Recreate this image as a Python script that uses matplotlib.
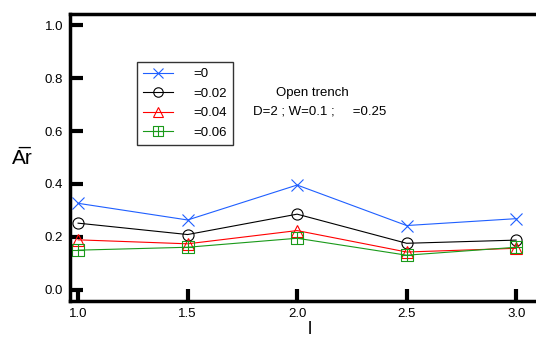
import numpy as np
import matplotlib.pyplot as plt
from matplotlib.path import Path

plt.rcParams['font.family'] = ['Liberation Sans', 'DejaVu Sans']

# datos
l_vals = [1.0, 1.5, 2.0, 2.5, 3.0]
etiquetas = ['=0', '=0.02', '=0.04', '=0.06']
ar_0 = [0.327, 0.264, 0.396, 0.243, 0.269]
ar_002 = [0.252, 0.209, 0.286, 0.176, 0.188]
ar_004 = [0.189, 0.174, 0.224, 0.143, 0.157]
ar_006 = [0.150, 0.161, 0.195, 0.131, 0.161]

# marcador cuadrado con cruz
verts = [(-1, -1), (1, -1), (1, 1), (-1, 1), (-1, -1),
         (0, -1), (0, 1), (-1, 0), (1, 0)]
codes = [Path.MOVETO, Path.LINETO, Path.LINETO, Path.LINETO, Path.LINETO,
         Path.MOVETO, Path.LINETO, Path.MOVETO, Path.LINETO]
cuadrado_cruz = Path(verts, codes)

fig = plt.figure(figsize=(5.36, 3.43), dpi=100)
ax = fig.add_axes([70 / 536, 1 - 301 / 343, 479 / 536, 287 / 343])

series = [
    (ar_0, '#1f5fff', 'x', 9),
    (ar_002, 'black', 'o', 8),
    (ar_004, 'red', '^', 8),
    (ar_006, '#1a9a1a', cuadrado_cruz, 9),
]
for (vals, color, marker, ms), lab in zip(series, etiquetas):
    ax.plot(l_vals, vals, color=color, lw=0.8, marker=marker, ms=ms,
            mfc='none', mec=color, mew=0.8, label=lab)

ax.set_xlim(0.963, 3.15)
ax.set_ylim(-0.042, 1.042)
ax.set_xticks(l_vals)
ax.set_yticks([0.0, 0.2, 0.4, 0.6, 0.8, 1.0])
ax.set_xticklabels(['1.0', '1.5', '2.0', '2.5', '3.0'])
ax.set_yticklabels(['0.0', '0.2', '0.4', '0.6', '0.8', '1.0'])
ax.tick_params(direction='in', length=9, width=3, labelsize=9.5, pad=5)
ax.tick_params(top=False, right=False)
for s in ax.spines.values():
    s.set_linewidth(2.5)

ax.set_xlabel('l', fontsize=13, labelpad=1)
fig.text(22 / 536, 1 - 158 / 343, 'A\u0305r', fontsize=15, ha='center', va='center')

fig.text(312 / 536, 1 - 93 / 343, 'Open trench', fontsize=9.5, ha='center', va='center')
fig.text(253 / 536, 1 - 111 / 343, 'D=2 ; W=0.1 ;     =0.25', fontsize=9.5, ha='left', va='center')

leg = ax.legend(loc='upper left', fontsize=9.5, markerscale=0.85,
                handlelength=2.3, frameon=True, fancybox=False, borderpad=0.45,
                labelspacing=0.55, handletextpad=1.5, borderaxespad=0)
leg.set_bbox_to_anchor(((137 - 70) / 479, (301 - 62) / 287), transform=ax.transAxes)
leg.get_frame().set_edgecolor('black')
leg.get_frame().set_linewidth(1)

fig.savefig('out.png', dpi=100)
